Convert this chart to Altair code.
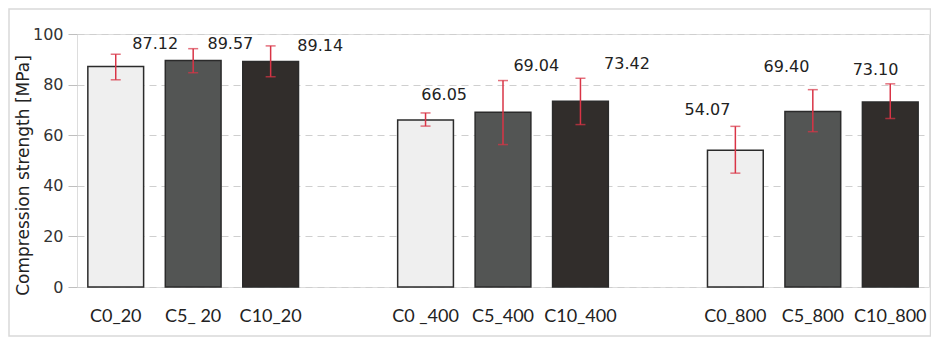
import altair as alt
import pandas as pd

# ---- data ----
categories = ["C0_20", "C5_ 20", "C10_20", "C0 _400", "C5_400", "C10_400",
              "C0_800", "C5_800", "C10_800"]
series = ["C0", "C5", "C10", "C0", "C5", "C10", "C0", "C5", "C10"]
values = [87.12, 89.57, 89.14, 66.05, 69.04, 73.42, 54.07, 69.40, 73.10]
err_low = [81.9, 84.7, 83.1, 63.6, 56.3, 64.2, 45.0, 61.4, 66.6]
err_high = [92.0, 94.2, 95.3, 68.8, 81.6, 82.5, 63.5, 78.0, 80.3]
# value-label anchor (MPa) and horizontal shift (in bar slots)
label_y = [95.9, 95.9, 95.2, 75.7, 87.2, 88.0, 70.1, 86.8, 85.6]
label_shift = [0.51, 0.48, 0.64, 0.24, 0.43, 0.60, -0.36, -0.34, -0.19]

series_names = ["C0", "C5", "C10"]
series_fill = ["#efefef", "#535554", "#312d2b"]

x_domain = categories[:3] + ["gap1"] + categories[3:6] + ["gap2"] + categories[6:]
slot = [x_domain.index(c) for c in categories]

df = pd.DataFrame({
    "cat": categories,
    "series": series,
    "value": values,
    "lo": err_low,
    "hi": err_high,
    "label_y": label_y,
    "lx": [s + 0.5 + d for s, d in zip(slot, label_shift)],
})

W, H = 852, 253
RED = "#d93446"

xscale = alt.Scale(domain=x_domain, paddingInner=0.28, paddingOuter=0.14)
yscale = alt.Scale(domain=[0, 100], nice=False)

x_enc = alt.X("cat:N", scale=xscale, sort=x_domain,
              axis=alt.Axis(title=None, labelAngle=0, ticks=False, domain=False,
                            labelFont="Lato", labelFontSize=18, labelColor="#222",
                            labelPadding=20,
                            labelExpr="indexof(datum.label, 'gap') == 0 ? '' : datum.label"))
y_axis = alt.Axis(title="Compression strength [MPa]", values=[0, 20, 40, 60, 80, 100],
                  titleFont="DejaVu Sans", titleFontSize=17, titleFontWeight="normal",
                  titleColor="#222", titleX=-54, titleY=141, titleAngle=270,
                  titleAlign="center", titleBaseline="middle",
                  labelFont="DejaVu Sans", labelFontSize=16, labelColor="#333",
                  labelPadding=5, tickSize=9, tickColor="#bfbfbf", domain=False,
                  grid=True, gridDash=[7, 5], gridColor="#cfcfcf")

base = alt.Chart(df)

bars = base.mark_bar(stroke="#2b2b2b", strokeWidth=1.5).encode(
    x=x_enc,
    y=alt.Y("value:Q", scale=yscale, axis=y_axis),
    color=alt.Color("series:N", scale=alt.Scale(domain=series_names, range=series_fill),
                    legend=None),
)
rule = base.mark_rule(color=RED, strokeWidth=1.5).encode(
    x=alt.X("cat:N", scale=xscale, sort=x_domain),
    y=alt.Y("lo:Q", scale=yscale), y2="hi:Q")
cap_lo = base.mark_tick(color=RED, thickness=1.5, size=10).encode(
    x=alt.X("cat:N", scale=xscale, sort=x_domain), y=alt.Y("lo:Q", scale=yscale))
cap_hi = base.mark_tick(color=RED, thickness=1.5, size=10).encode(
    x=alt.X("cat:N", scale=xscale, sort=x_domain), y=alt.Y("hi:Q", scale=yscale))

main = alt.layer(bars, rule, cap_lo, cap_hi)

labels = base.mark_text(font="DejaVu Sans", fontSize=16, color="#222",
                        align="center", baseline="middle").encode(
    x=alt.X("lx:Q", scale=alt.Scale(domain=[0, len(x_domain)], nice=False, zero=False),
            axis=None),
    y=alt.Y("label_y:Q", scale=yscale),
    text=alt.Text("value:Q", format=".2f"),
)

frame = alt.Chart(alt.Data(values=[{"f": 1}])).mark_rect(
    fillOpacity=0, stroke="#d9d9d9", strokeWidth=1.5).encode(
    x=alt.value(-68), x2=alt.value(W + 1.5), y=alt.value(-25), y2=alt.value(H + 49))

chart = alt.layer(frame, main, labels).resolve_scale(x="independent").properties(
    width=W, height=H,
    autosize=alt.AutoSizeParams(type="none"),
    padding={"left": 69, "top": 26, "right": 2, "bottom": 50},
).configure_view(stroke="#a6a6a6", strokeWidth=1).configure(background="white")

chart.save("out.html", embed_options={"renderer": "svg", "actions": False})
